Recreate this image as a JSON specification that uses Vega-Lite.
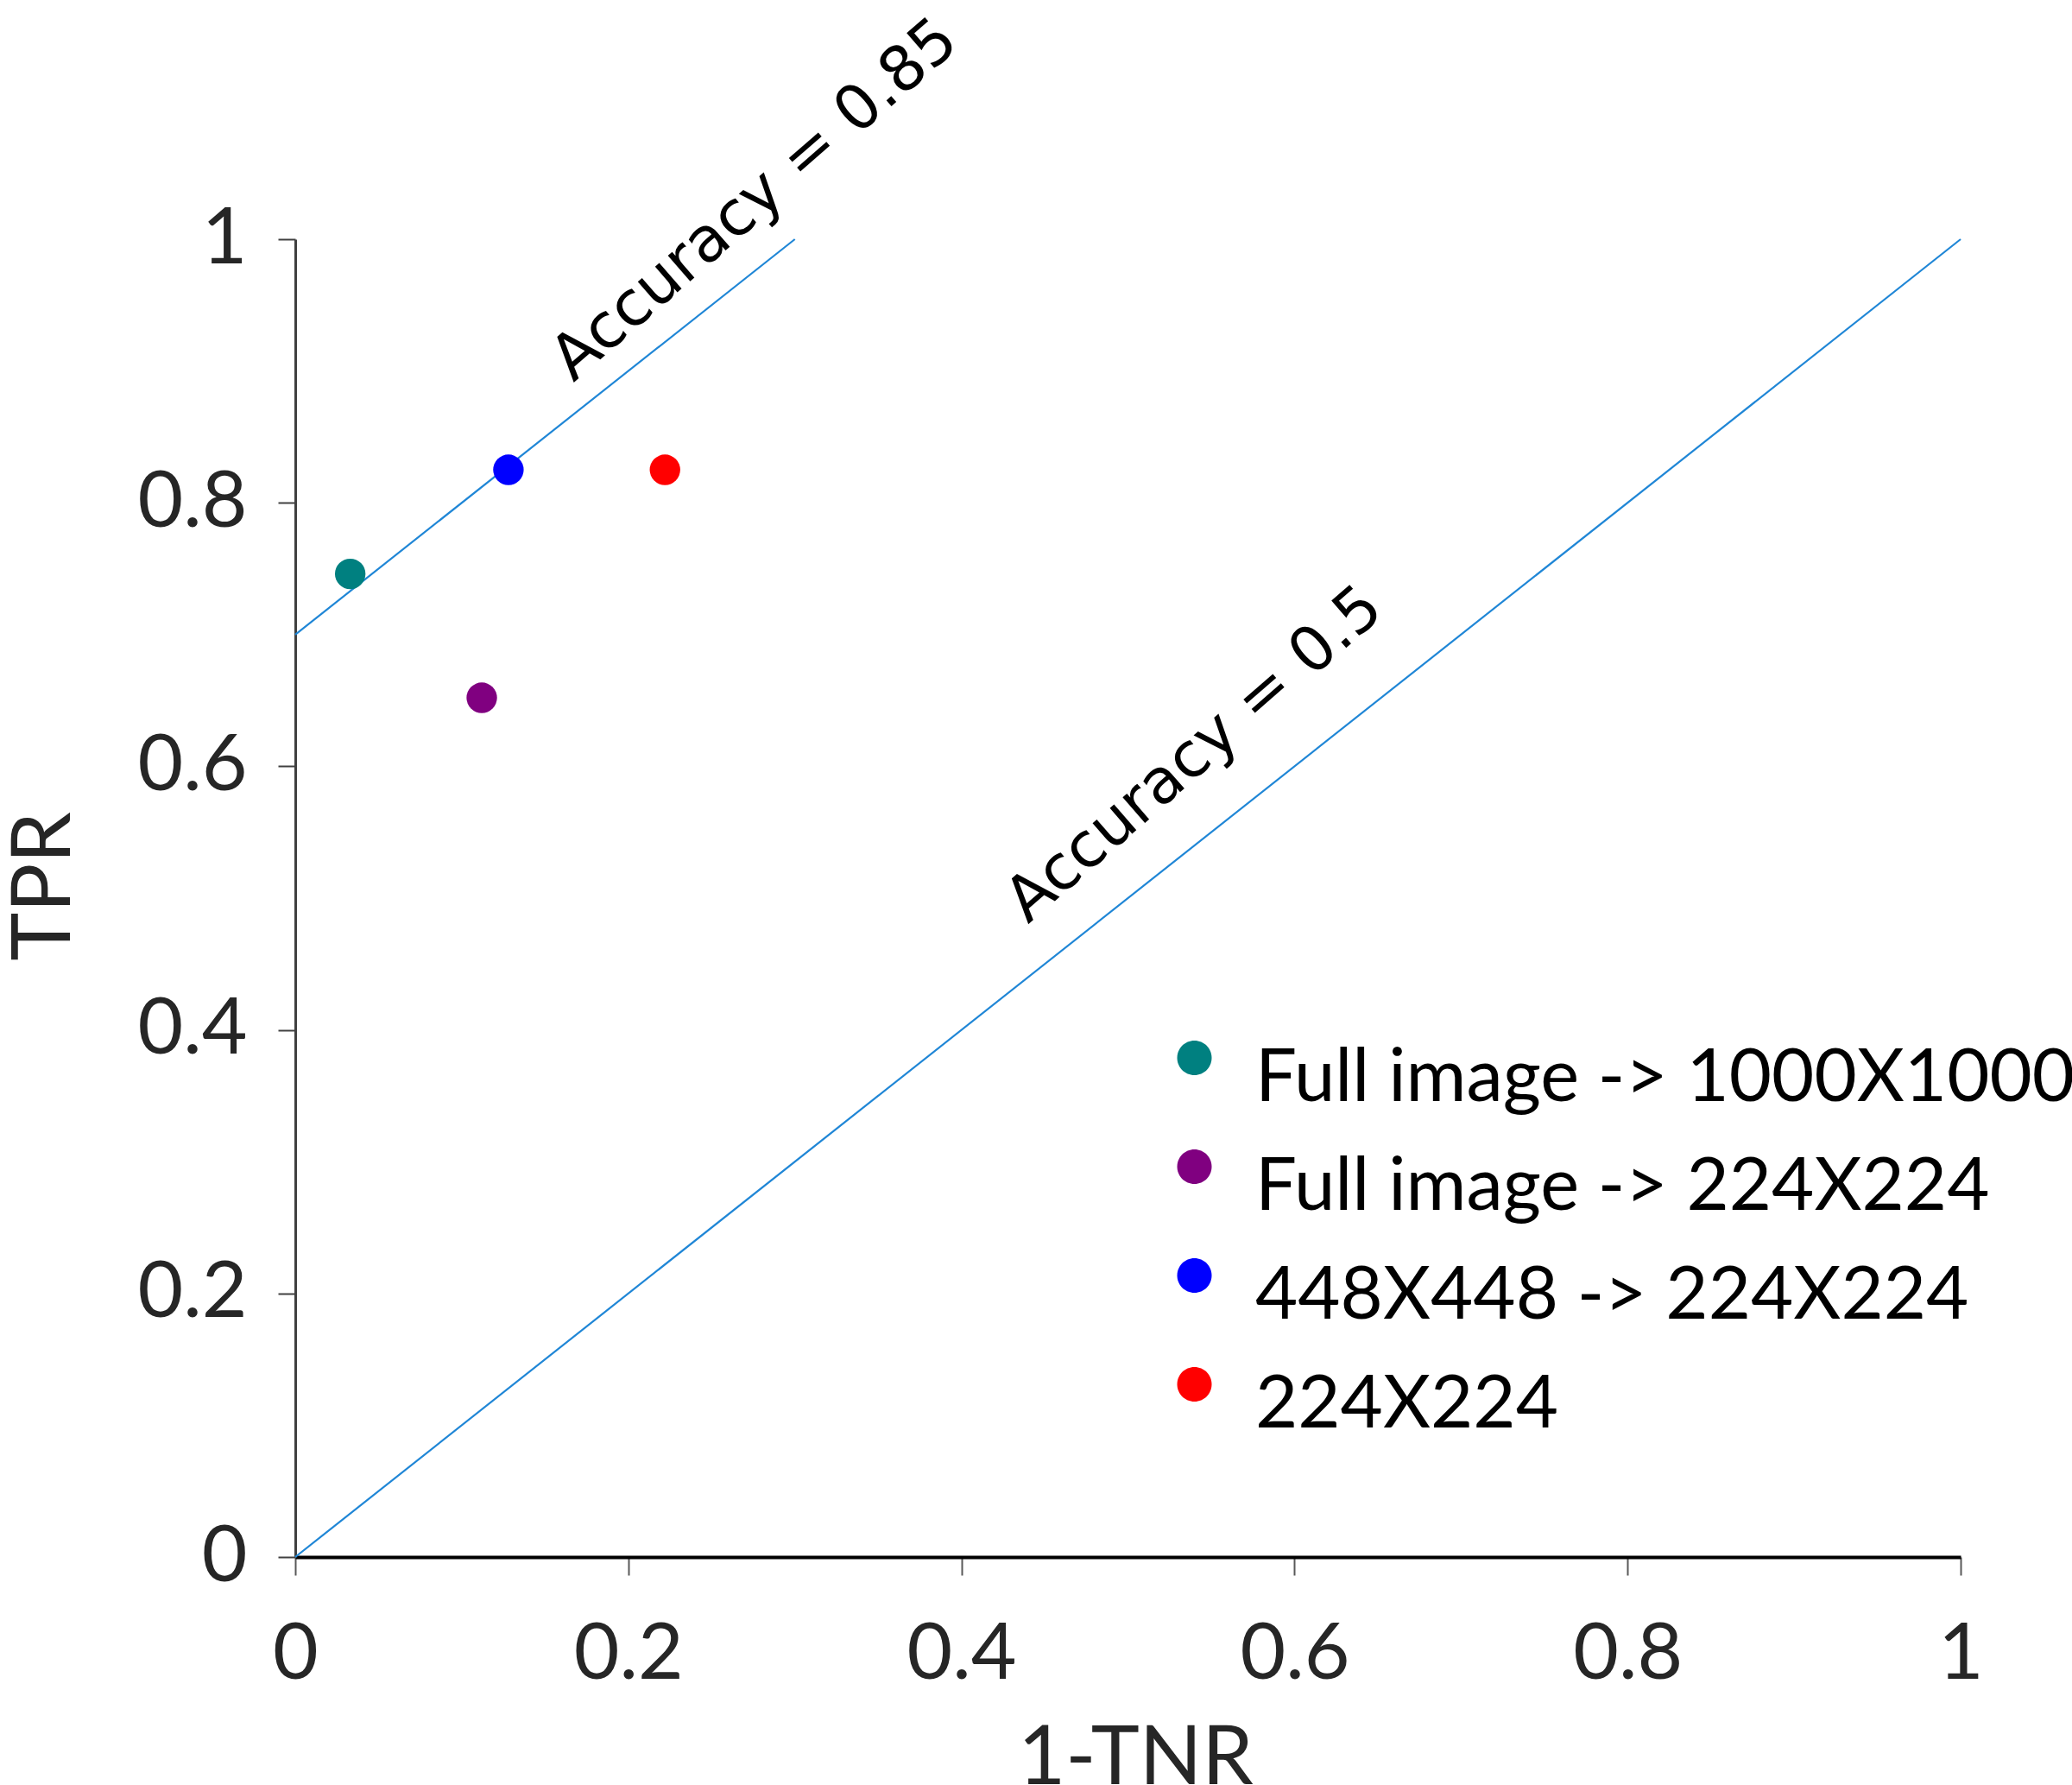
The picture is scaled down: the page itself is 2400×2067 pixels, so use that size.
{
  "$schema": "https://vega.github.io/schema/vega-lite/v6.json",
  "width": 1929,
  "height": 1526,
  "autosize": {"type": "none"},
  "padding": {"left": 342, "top": 277, "right": 129, "bottom": 264},
  "background": "white",
  "config": {"view": {"stroke": null}, "font": "Lato"},
  "datasets": {
    "lines": [
      {"line": "Accuracy = 0.85", "x": 0, "y": 0.7},
      {"line": "Accuracy = 0.85", "x": 0.3, "y": 1.0},
      {"line": "Accuracy = 0.5", "x": 0, "y": 0},
      {"line": "Accuracy = 0.5", "x": 1, "y": 1}
    ],
    "points": [
      {"setting": "Full image -> 1000X1000", "x": 0.033, "y": 0.746},
      {"setting": "Full image -> 224X224", "x": 0.112, "y": 0.652},
      {"setting": "448X448 -> 224X224", "x": 0.128, "y": 0.825},
      {"setting": "224X224", "x": 0.222, "y": 0.825}
    ],
    "labels": [
      {"label": "Accuracy = 0.85", "x": 0.167, "y": 0.891},
      {"label": "Accuracy = 0.5", "x": 0.44, "y": 0.48}
    ]
  },
  "encoding": {
    "x": {
      "field": "x", "type": "quantitative",
      "scale": {"domain": [0, 1], "nice": false},
      "axis": {
        "title": "1-TNR",
        "values": [0, 0.2, 0.4, 0.6, 0.8, 1],
        "format": ".1~f",
        "grid": false,
        "labelFlush": false,
        "labelOverlap": false,
        "domainColor": "#000000",
        "domainWidth": 4,
        "tickColor": "#595959",
        "tickWidth": 2,
        "tickSize": 21,
        "labelFont": "Lato",
        "labelFontSize": 91,
        "labelColor": "#262626",
        "labelPadding": 47,
        "titleFont": "Lato",
        "titleFontSize": 95,
        "titleFontWeight": "normal",
        "titleColor": "#262626",
        "titleX": 973,
        "titleY": 262,
        "titleAlign": "center",
        "titleBaseline": "alphabetic"
      }
    },
    "y": {
      "field": "y", "type": "quantitative",
      "scale": {"domain": [0, 1], "nice": false},
      "axis": {
        "title": "TPR",
        "values": [0, 0.2, 0.4, 0.6, 0.8, 1],
        "format": ".1~f",
        "grid": false,
        "labelFlush": false,
        "labelOverlap": false,
        "domainColor": "#404040",
        "domainWidth": 3,
        "tickColor": "#404040",
        "tickWidth": 2,
        "tickSize": 20,
        "labelFont": "Lato",
        "labelFontSize": 91,
        "labelColor": "#262626",
        "labelPadding": 36,
        "titleFont": "Lato",
        "titleFontSize": 95,
        "titleFontWeight": "normal",
        "titleColor": "#262626",
        "titleAngle": -90,
        "titleX": -262,
        "titleY": 749,
        "titleAlign": "center",
        "titleBaseline": "alphabetic"
      }
    }
  },
  "layer": [
    {
      "data": {"name": "lines"},
      "mark": {"type": "line", "color": "#1f86d6", "strokeWidth": 2.2},
      "encoding": {
        "detail": {"field": "line"}
      }
    },
    {
      "data": {"name": "points"},
      "mark": {"type": "point", "filled": true, "opacity": 1, "size": 1250, "shape": "circle"},
      "encoding": {
        "color": {
          "field": "setting", "type": "nominal",
          "scale": {
            "domain": ["Full image -> 1000X1000", "Full image -> 224X224", "448X448 -> 224X224", "224X224"],
            "range": ["#008080", "#800080", "#0000ff", "#ff0000"]
          },
          "legend": {
            "title": null,
            "orient": "none",
            "legendX": 999,
            "legendY": 929,
            "padding": 0,
            "symbolType": "M-1,-1.175A1,1,0,1,1,1,-1.175A1,1,0,1,1,-1,-1.175Z",
            "symbolSize": 1600,
            "symbolStrokeWidth": 0,
            "labelFont": "Lato",
            "labelFontSize": 85,
            "labelColor": "#000000",
            "labelOffset": 28,
            "labelLimit": 1500,
            "rowPadding": 39
          }
        }
      }
    },
    {
      "data": {"name": "labels"},
      "mark": {"type": "text", "angle": -41, "align": "left", "baseline": "alphabetic", "font": "DejaVu Sans", "fontSize": 72, "color": "#000000"},
      "encoding": {
        "text": {"field": "label"}
      }
    }
  ]
}
